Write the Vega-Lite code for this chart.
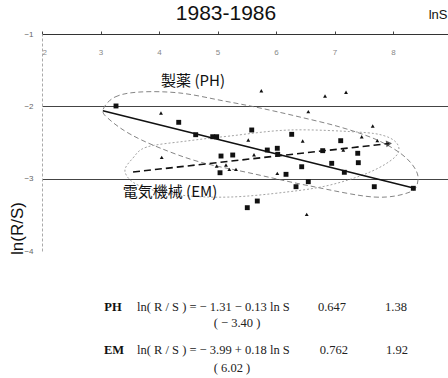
{
  "$schema": "https://vega.github.io/schema/vega-lite/v6.json",
  "width": 406,
  "height": 217,
  "autosize": {"type": "none"},
  "padding": {"left": 42, "top": 34, "right": 0, "bottom": 127},
  "background": "white",
  "view": {"stroke": null},
  "title": {"text": "1983-1986", "font": "Liberation Sans", "fontSize": 21, "fontWeight": "normal", "color": "#111", "anchor": "middle", "frame": "group", "dx": -19, "offset": -27, "baseline": "middle"},
  "datasets": {
    "pts": [
      {"group": "A", "x": 3.265, "y": -1.995}, {"group": "A", "x": 4.337, "y": -2.221}, {"group": "A", "x": 4.627, "y": -2.392},
      {"group": "A", "x": 4.918, "y": -2.42}, {"group": "A", "x": 4.986, "y": -2.42}, {"group": "A", "x": 5.06, "y": -2.687},
      {"group": "A", "x": 5.043, "y": -2.918}, {"group": "A", "x": 5.26, "y": -2.673}, {"group": "A", "x": 5.585, "y": -2.327},
      {"group": "A", "x": 5.851, "y": -2.604}, {"group": "A", "x": 6.022, "y": -2.58}, {"group": "A", "x": 6.029, "y": -2.663},
      {"group": "A", "x": 6.268, "y": -2.387}, {"group": "A", "x": 6.439, "y": -2.835}, {"group": "A", "x": 6.171, "y": -2.94},
      {"group": "A", "x": 6.342, "y": -3.111}, {"group": "A", "x": 6.552, "y": -3.042}, {"group": "A", "x": 6.798, "y": -2.613},
      {"group": "A", "x": 6.952, "y": -2.788}, {"group": "A", "x": 7.106, "y": -2.475}, {"group": "A", "x": 7.168, "y": -2.912},
      {"group": "A", "x": 7.397, "y": -2.649}, {"group": "A", "x": 7.407, "y": -2.779}, {"group": "A", "x": 7.68, "y": -3.111},
      {"group": "A", "x": 8.347, "y": -3.133}, {"group": "A", "x": 5.68, "y": -3.309}, {"group": "A", "x": 5.509, "y": -3.401},
      {"group": "B", "x": 4.034, "y": -2.092}, {"group": "B", "x": 4.046, "y": -2.705}, {"group": "B", "x": 4.986, "y": -2.825},
      {"group": "B", "x": 5.145, "y": -2.811}, {"group": "B", "x": 5.202, "y": -2.871}, {"group": "B", "x": 5.316, "y": -2.871},
      {"group": "B", "x": 5.749, "y": -1.784}, {"group": "B", "x": 6.838, "y": -1.857}, {"group": "B", "x": 7.197, "y": -1.806},
      {"group": "B", "x": 6.552, "y": -2.074}, {"group": "B", "x": 7.653, "y": -2.272}, {"group": "B", "x": 5.526, "y": -2.466},
      {"group": "B", "x": 6.456, "y": -2.479}, {"group": "B", "x": 7.465, "y": -2.42}, {"group": "B", "x": 7.732, "y": -2.475},
      {"group": "B", "x": 5.624, "y": -2.669}, {"group": "B", "x": 7.15, "y": -2.604}, {"group": "B", "x": 6.022, "y": -2.926},
      {"group": "B", "x": 6.525, "y": -3.493}
    ],
    "ellPH": [
      {"i": 1, "x": 3.043, "y": -2.051}, {"i": 2, "x": 3.248, "y": -1.871}, {"i": 3, "x": 3.675, "y": -1.802},
      {"i": 4, "x": 4.359, "y": -1.816}, {"i": 5, "x": 5.111, "y": -1.926}, {"i": 6, "x": 5.726, "y": -2.023},
      {"i": 7, "x": 6.41, "y": -2.148}, {"i": 8, "x": 7.094, "y": -2.286}, {"i": 9, "x": 7.692, "y": -2.452},
      {"i": 10, "x": 8.12, "y": -2.645}, {"i": 11, "x": 8.359, "y": -2.839}, {"i": 12, "x": 8.427, "y": -3.019},
      {"i": 13, "x": 8.291, "y": -3.184}, {"i": 14, "x": 7.675, "y": -3.254}, {"i": 15, "x": 6.581, "y": -3.101},
      {"i": 16, "x": 5.556, "y": -2.922}, {"i": 17, "x": 4.701, "y": -2.77}, {"i": 18, "x": 4.017, "y": -2.576},
      {"i": 19, "x": 3.504, "y": -2.383}, {"i": 20, "x": 3.162, "y": -2.189}
    ],
    "ellEM": [
      {"i": 1, "x": 3.419, "y": -2.908}, {"i": 2, "x": 3.556, "y": -2.714}, {"i": 3, "x": 3.795, "y": -2.562},
      {"i": 4, "x": 4.479, "y": -2.479}, {"i": 5, "x": 5.214, "y": -2.41}, {"i": 6, "x": 6.239, "y": -2.327},
      {"i": 7, "x": 7.385, "y": -2.355}, {"i": 8, "x": 7.863, "y": -2.41}, {"i": 9, "x": 8.085, "y": -2.535},
      {"i": 10, "x": 8.034, "y": -2.701}, {"i": 11, "x": 7.607, "y": -2.908}, {"i": 12, "x": 6.923, "y": -3.088},
      {"i": 13, "x": 6.188, "y": -3.184}, {"i": 14, "x": 5.214, "y": -3.254}, {"i": 15, "x": 4.359, "y": -3.226},
      {"i": 16, "x": 3.675, "y": -3.101}
    ],
    "lineA": [{"x": 3.04, "y": -2.06}, {"x": 8.35, "y": -3.13}],
    "lineB": [{"x": 3.556, "y": -2.908}, {"x": 7.932, "y": -2.514}],
    "arrow": [{"x": 7.932, "y": -2.514}],
    "names": [
      {"x": 4.581, "y": -1.65, "text": "製薬 (PH)"},
      {"x": 4.188, "y": -3.184, "text": "電気機械 (EM)"}
    ],
    "rowlab": [
      {"x": 3.214, "y": -4.774, "text": "PH"},
      {"x": 3.231, "y": -5.369, "text": "EM"}
    ],
    "eq": [
      {"x": 3.624, "y": -4.774, "text": "ln( R / S ) = − 1.31 − 0.13 ln S"},
      {"x": 3.624, "y": -5.369, "text": "ln( R / S ) = − 3.99 + 0.18 ln S"}
    ],
    "nums": [
      {"x": 5.333, "y": -4.996, "text": "( − 3.40 )"},
      {"x": 6.957, "y": -4.774, "text": "0.647"},
      {"x": 8.051, "y": -4.774, "text": "1.38"},
      {"x": 5.248, "y": -5.618, "text": "( 6.02 )"},
      {"x": 6.99, "y": -5.369, "text": "0.762"},
      {"x": 8.068, "y": -5.369, "text": "1.92"}
    ]
  },
  "encoding": {
    "x": {"field": "x", "type": "quantitative",
      "scale": {"domain": [2, 8.94], "nice": false, "zero": false},
      "axis": {"orient": "top", "values": [2, 3, 4, 5, 6, 7, 8], "grid": false,
        "domainColor": "#333", "domainWidth": 1, "tickColor": "#444", "tickSize": 3,
        "labelPadding": -25, "labelFontSize": 8, "labelColor": "#888", "labelFont": "Liberation Sans",
        "title": "lnS", "titleFont": "Liberation Sans", "titleFontSize": 13, "titleFontWeight": "normal", "titleColor": "#111",
        "titleAnchor": "end", "titleAlign": "right", "titleX": 405, "titleY": -20, "titleBaseline": "middle"}},
    "y": {"field": "y", "type": "quantitative",
      "scale": {"domain": [-4, -1], "nice": false, "zero": false},
      "axis": {"orient": "left", "values": [-1, -2, -3, -4], "grid": true,
        "gridColor": "#444", "gridWidth": 1,
        "gridOpacity": {"condition": {"test": "datum.value == -4 || datum.value == -1", "value": 0}, "value": 1},
        "domainColor": "#aaa", "domainDash": [3, 2], "ticks": false,
        "labelPadding": 9, "labelFontSize": 8, "labelColor": "#666", "labelFont": "Liberation Sans",
        "title": "ln(R/S)", "titleFont": "Liberation Sans", "titleFontSize": 17, "titleFontWeight": "normal", "titleColor": "#111",
        "titleAngle": 270, "titleAlign": "center", "titleBaseline": "middle", "titleX": -25, "titleY": 194}}
  },
  "layer": [
    {"data": {"name": "ellPH"}, "mark": {"type": "line", "interpolate": "cardinal-closed", "stroke": "#777", "strokeWidth": 0.9, "strokeDash": [5, 3]},
      "encoding": {"order": {"field": "i", "type": "quantitative"}}},
    {"data": {"name": "ellEM"}, "mark": {"type": "line", "interpolate": "cardinal-closed", "stroke": "#999", "strokeWidth": 0.9, "strokeDash": [2, 2]},
      "encoding": {"order": {"field": "i", "type": "quantitative"}}},
    {"data": {"name": "lineA"}, "mark": {"type": "line", "stroke": "#111", "strokeWidth": 1.6}, "encoding": {}},
    {"data": {"name": "lineB"}, "mark": {"type": "line", "stroke": "#111", "strokeWidth": 1.6, "strokeDash": [7, 4]}, "encoding": {}},
    {"data": {"name": "arrow"}, "mark": {"type": "point", "shape": "triangle-right", "filled": true, "color": "#111", "size": 45, "angle": -6}},
    {"data": {"name": "pts"}, "mark": {"type": "point", "filled": true, "color": "#111", "opacity": 1},
      "encoding": {
        "shape": {"field": "group", "type": "nominal", "scale": {"domain": ["A", "B"], "range": ["square", "triangle-up"]}, "legend": null},
        "size": {"field": "group", "type": "nominal", "scale": {"domain": ["A", "B"], "range": [24, 15]}, "legend": null}}},
    {"data": {"name": "names"}, "mark": {"type": "text", "font": "Noto Sans CJK JP", "fontSize": 15, "color": "#111", "align": "center", "baseline": "middle"},
      "encoding": {"text": {"field": "text"}}},
    {"data": {"name": "rowlab"}, "mark": {"type": "text", "font": "Liberation Serif", "fontSize": 12.5, "fontWeight": "bold", "color": "#111", "align": "center", "baseline": "middle"},
      "encoding": {"text": {"field": "text"}}},
    {"data": {"name": "eq"}, "mark": {"type": "text", "font": "Liberation Serif", "fontSize": 12.5, "color": "#222", "align": "left", "baseline": "middle"},
      "encoding": {"text": {"field": "text"}}},
    {"data": {"name": "nums"}, "mark": {"type": "text", "font": "Liberation Serif", "fontSize": 12.5, "color": "#222", "align": "center", "baseline": "middle"},
      "encoding": {"text": {"field": "text"}}}
  ]
}
